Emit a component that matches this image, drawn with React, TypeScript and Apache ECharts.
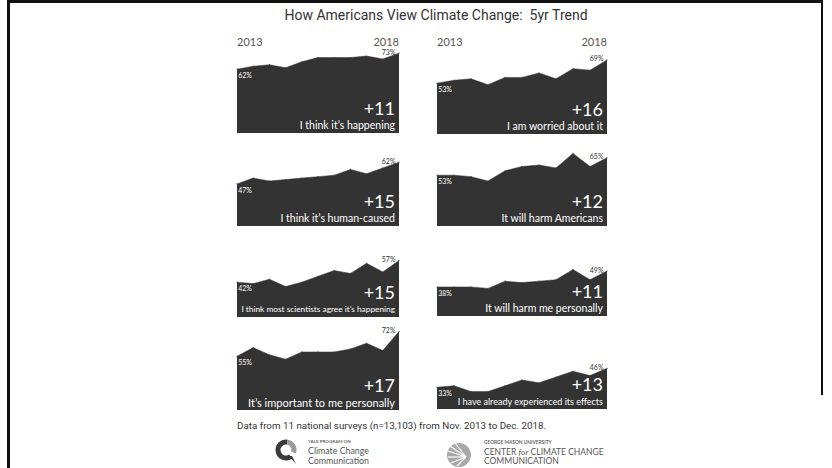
import React, { useEffect, useRef } from 'react';
import * as echarts from 'echarts';

// 11 national surveys, Nov 2013 - Dec 2018
const surveys = ['Nov 2013', 'Apr 2014', 'Oct 2014', 'Mar 2015', 'Oct 2015', 'Mar 2016', 'Nov 2016', 'May 2017', 'Oct 2017', 'Mar 2018', 'Dec 2018'];

const happening = [62, 64, 65, 63, 67, 70, 70, 70, 71, 69, 73];
const worried = [53, 55, 56, 52, 57, 57, 60, 56, 63, 62, 69];
const humanCaused = [47, 51, 49, 50, 51, 52, 53, 57, 54, 58, 62];
const harmAmericans = [53, 53, 52, 49, 56, 59, 60, 58, 68, 59, 65];
const scientistsAgree = [42, 41, 44, 39, 42, 46, 50, 48, 55, 49, 57];
const harmMe = [38, 38, 38, 37, 42, 41, 42, 43, 50, 43, 49];
const importantToMe = [55, 61, 56, 53, 58, 58, 58, 60, 64, 59, 72];
const experienced = [33, 34, 30, 30, 34, 38, 36, 40, 44, 41, 46];

const panelLabels = [
  'I think it’s happening',
  'I am worried about it',
  'I think it’s human-caused',
  'It will harm Americans',
  'I think most scientists agree it’s happening',
  'It will harm me personally',
  'It’s important to me personally',
  'I have already experienced its effects',
];

const yearLabels = ['2013', '2018'];
const titleText = 'How Americans View Climate Change:  5yr Trend';
const footerText = 'Data from 11 national surveys (n=13,103) from Nov. 2013 to Dec. 2018.';

const panelData = [happening, worried, humanCaused, harmAmericans, scientistsAgree, harmMe, importantToMe, experienced];

// layout (pixels)
const colLeft = [237, 437];
const colRight = [399, 607];
const panelBottoms = [133, 134, 226, 226, 317, 316, 410, 409];
const labelSizes = [10.5, 10.5, 10.5, 10.5, 8.3, 10.5, 11, 9];
const gridH = 90;
const Y_MIN = 18;
const Y_MAX = 80;
const AREA = '#333333';

export default function App() {
  const ref = useRef<HTMLDivElement>(null);
  useEffect(() => {
    document.body.style.margin = '0';
    const chart = echarts.init(ref.current!, null, { renderer: 'svg' });

    const grids: any[] = [];
    const xAxes: any[] = [];
    const yAxes: any[] = [];
    const series: any[] = [];
    const graphics: any[] = [];

    panelData.forEach((data, i) => {
      const col = i % 2;
      const left = colLeft[col];
      const right = colRight[col];
      const bottom = panelBottoms[i];
      grids.push({ left, top: bottom - gridH, width: right - left, height: gridH });
      xAxes.push({ type: 'category', gridIndex: i, data: surveys, boundaryGap: false, show: false });
      yAxes.push({ type: 'value', gridIndex: i, min: Y_MIN, max: Y_MAX, show: false });
      const last = data.length - 1;
      series.push({
        type: 'line',
        xAxisIndex: i,
        yAxisIndex: i,
        silent: true,
        symbol: 'circle',
        symbolSize: 1,
        showSymbol: true,
        showAllSymbol: true,
        itemStyle: { color: AREA },
        lineStyle: { color: AREA, width: 0.5 },
        areaStyle: { color: AREA, opacity: 1, origin: 'start' },
        data: data.map((v, j) => ({
          value: v,
          label:
            j === 0
              ? { show: true, position: 'bottom', distance: 2, offset: [8, 0], formatter: '{c}%', color: '#ffffff', fontSize: 7, fontFamily: 'Lato' }
              : j === last
              ? { show: true, position: 'left', distance: 3, offset: [0, -1.5], formatter: '{c}%', color: '#333333', fontSize: 7, fontFamily: 'Lato' }
              : { show: false },
        })),
      });
      const change = data[last] - data[0];
      graphics.push({
        type: 'text',
        x: right - 4,
        y: bottom - 25,
        z: 100,
        silent: true,
        style: { text: '+' + change, fill: '#ffffff', font: '18px Lato', textAlign: 'right', textVerticalAlign: 'middle' },
      });
      graphics.push({
        type: 'text',
        x: right - 4,
        y: bottom - 8,
        z: 100,
        silent: true,
        style: { text: panelLabels[i], fill: '#ffffff', font: `${labelSizes[i]}px Lato`, textAlign: 'right', textVerticalAlign: 'middle' },
      });
    });

    // year labels
    [0, 1].forEach((col) => {
      graphics.push({ type: 'text', x: colLeft[col], y: 41, style: { text: yearLabels[0], fill: '#555', font: '11px Lato', textAlign: 'left', textVerticalAlign: 'middle' } });
      graphics.push({ type: 'text', x: colRight[col], y: 41, style: { text: yearLabels[1], fill: '#555', font: '11px Lato', textAlign: 'right', textVerticalAlign: 'middle' } });
    });

    // title & footer
    graphics.push({ type: 'text', x: 436, y: 15, style: { text: titleText, fill: '#333', font: '14px Roboto', textAlign: 'center', textVerticalAlign: 'middle' } });
    graphics.push({ type: 'text', x: 237, y: 425, style: { text: footerText, fill: '#333', font: '9.8px Roboto', textAlign: 'left', textVerticalAlign: 'middle' } });

    // frame
    graphics.push({ type: 'rect', shape: { x: 7, y: 0, width: 815, height: 3 }, style: { fill: '#111' } });
    graphics.push({ type: 'rect', shape: { x: 7, y: 0, width: 3, height: 468 }, style: { fill: '#111' } });
    graphics.push({ type: 'rect', shape: { x: 821, y: 0, width: 2, height: 395 }, style: { fill: '#111' } });

    // Yale logo
    graphics.push({ type: 'sector', shape: { cx: 286, cy: 450, r: 10.5, r0: 5.5, startAngle: Math.PI * 0.3, endAngle: Math.PI * 1.55 }, style: { fill: '#3a3a3a' } });
    graphics.push({ type: 'sector', shape: { cx: 286, cy: 450, r: 10.5, r0: 5.5, startAngle: Math.PI * 1.55, endAngle: Math.PI * 2.1 }, style: { fill: '#9a9a9a' } });
    graphics.push({ type: 'polygon', shape: { points: [[289, 456], [296, 464], [292, 456]] }, style: { fill: '#3a3a3a' } });
    graphics.push({ type: 'text', x: 308, y: 441.5, style: { text: 'YALE PROGRAM ON', fill: '#666', font: 'bold 4.5px Lato', textVerticalAlign: 'middle' } });
    graphics.push({ type: 'text', x: 308, y: 450.5, style: { text: 'Climate Change', fill: '#555', font: '8.8px Lato', textVerticalAlign: 'middle' } });
    graphics.push({ type: 'text', x: 308, y: 460, style: { text: 'Communication', fill: '#555', font: '8.8px Lato', textVerticalAlign: 'middle' } });

    // GMU logo
    graphics.push({ type: 'circle', shape: { cx: 459, cy: 455, r: 12 }, style: { fill: '#a8a8a8' } });
    [[-11, -4], [-9, -9], [-4, -12], [-11, 2], [-8, 8], [-2, 11]].forEach(([dx, dy]) => {
      graphics.push({ type: 'line', shape: { x1: 466, y1: 457, x2: 459 + dx, y2: 455 + dy }, style: { stroke: '#fff', lineWidth: 1.2 } });
    });
    graphics.push({ type: 'text', x: 484, y: 442, style: { text: 'GEORGE MASON UNIVERSITY', fill: '#666', font: 'bold 4.8px Lato', textVerticalAlign: 'middle' } });
    graphics.push({
      type: 'text', x: 484, y: 452,
      style: {
        text: '{a|CENTER }{b|for}{a| CLIMATE CHANGE}',
        textVerticalAlign: 'middle',
        rich: { a: { fill: '#555', font: '8.5px Lato' }, b: { fill: '#555', font: 'italic 8.5px Lato' } },
      },
    });
    graphics.push({ type: 'text', x: 484, y: 461, style: { text: 'COMMUNICATION', fill: '#555', font: '8.5px Lato', textVerticalAlign: 'middle' } });

    chart.setOption({
      animation: false,
      grid: grids,
      xAxis: xAxes,
      yAxis: yAxes,
      series,
      graphic: { elements: graphics },
    });
    return () => chart.dispose();
  }, []);
  return <div ref={ref} style={{ width: 832, height: 468 }} />;
}
